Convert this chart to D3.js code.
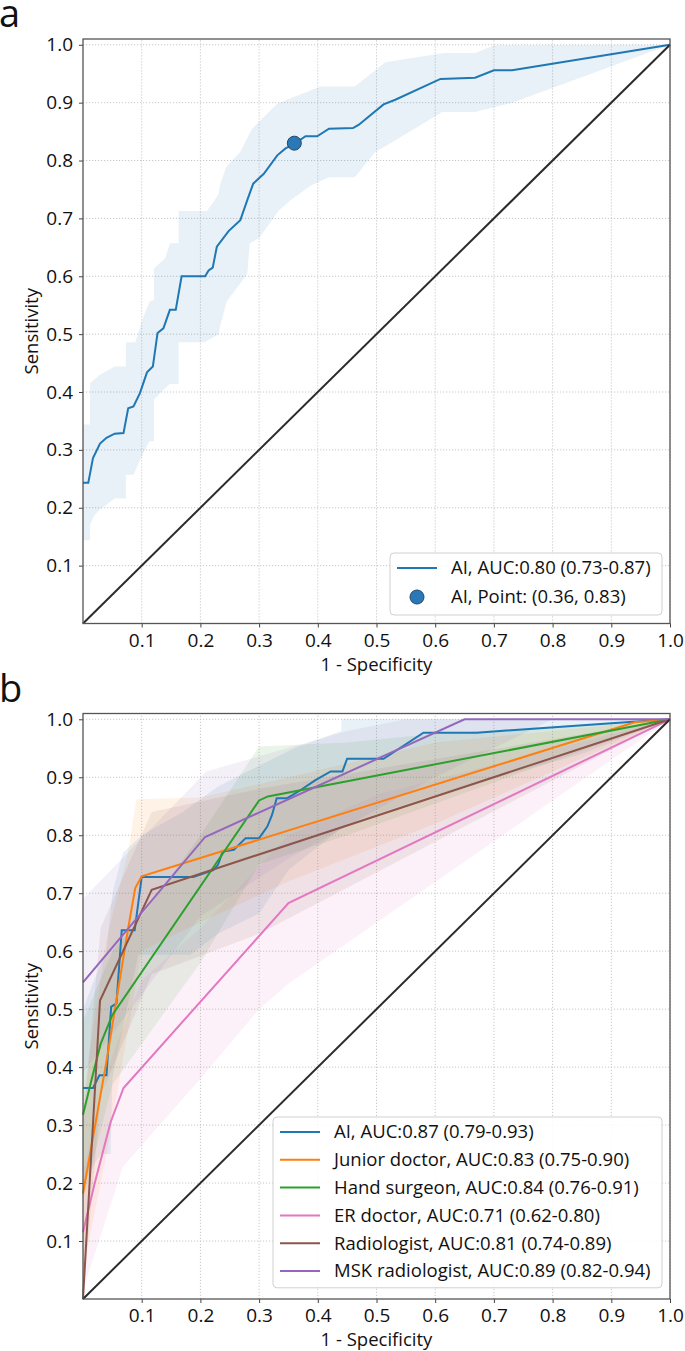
<!DOCTYPE html>
<html>
<head>
<meta charset="utf-8">
<script src="https://cdn.jsdelivr.net/npm/d3@7"></script>
<style>
  body { margin: 0; background: #fff; }
  text { font-family: "Open Sans", "DejaVu Sans", sans-serif; fill: #111; }
  .axis text { font-size: 19px; }
  .axis line { stroke: #444; }
  .axis .domain { display: none; }
  .gridLine { stroke: #c8c8c8; stroke-width: 1; stroke-dasharray: 1.2, 1.8; }
  .spine { fill: none; stroke: #555; stroke-width: 1.3; }
  .axis__label { font-size: 18.5px; }
  .legend text { font-size: 18.5px; }
  .panelLabel { font-size: 38px; font-weight: 500; }
</style>
</head>
<body>
<div class="chart"></div>
<script>
// ---- data: panel a (AI alone) ----
const aiCurveA = [[0, 0.243], [0.009, 0.243], [0.017, 0.286], [0.029, 0.311], [0.04, 0.321], [0.054, 0.328],
  [0.069, 0.329], [0.077, 0.372], [0.086, 0.375], [0.097, 0.398], [0.109, 0.434], [0.119, 0.444],
  [0.127, 0.502], [0.137, 0.51], [0.148, 0.542], [0.158, 0.542], [0.168, 0.6], [0.208, 0.6],
  [0.214, 0.61], [0.221, 0.615], [0.228, 0.651], [0.248, 0.678], [0.268, 0.697], [0.28, 0.732],
  [0.29, 0.76], [0.308, 0.777], [0.331, 0.809], [0.345, 0.821], [0.359, 0.828], [0.379, 0.842],
  [0.399, 0.842], [0.419, 0.855], [0.46, 0.856], [0.47, 0.862], [0.512, 0.897], [0.532, 0.905],
  [0.609, 0.941], [0.668, 0.943], [0.7, 0.956], [0.731, 0.956], [1, 1]]
const aiUpperA = [[0, 0.344], [0.012, 0.344], [0.012, 0.415], [0.029, 0.43], [0.054, 0.444], [0.073, 0.444],
  [0.073, 0.486], [0.089, 0.486], [0.103, 0.53], [0.113, 0.556], [0.121, 0.559], [0.121, 0.614],
  [0.14, 0.631], [0.148, 0.657], [0.163, 0.657], [0.163, 0.713], [0.211, 0.713], [0.223, 0.729],
  [0.231, 0.743], [0.234, 0.76], [0.244, 0.789], [0.268, 0.815], [0.288, 0.855], [0.331, 0.898],
  [0.36, 0.91], [0.405, 0.928], [0.463, 0.928], [0.515, 0.97], [0.615, 0.986], [0.668, 0.986],
  [0.7, 0.999], [1, 1]]
const aiLowerA = [[0, 0.144], [0.012, 0.144], [0.012, 0.171], [0.019, 0.186], [0.029, 0.197], [0.054, 0.216],
  [0.073, 0.216], [0.073, 0.257], [0.086, 0.257], [0.103, 0.295], [0.113, 0.315], [0.121, 0.315],
  [0.121, 0.387], [0.134, 0.401], [0.148, 0.414], [0.163, 0.414], [0.163, 0.486], [0.207, 0.486],
  [0.231, 0.5], [0.234, 0.516], [0.245, 0.557], [0.268, 0.588], [0.28, 0.605], [0.284, 0.657],
  [0.3, 0.666], [0.334, 0.714], [0.354, 0.732], [0.388, 0.757], [0.419, 0.771], [0.463, 0.771],
  [0.498, 0.815], [0.521, 0.828], [0.612, 0.884], [0.668, 0.884], [0.731, 0.9], [1, 1]]
const aiPointA = [0.36, 0.83]
const legendA = ['AI, AUC:0.80 (0.73-0.87)', 'AI, Point: (0.36, 0.83)']

// ---- data: panel b (AI vs readers) ----
const readers = ['AI', 'Junior doctor', 'Hand surgeon', 'ER doctor', 'Radiologist', 'MSK radiologist']
const aucLabels = ['AUC:0.87 (0.79-0.93)', 'AUC:0.83 (0.75-0.90)', 'AUC:0.84 (0.76-0.91)',
  'AUC:0.71 (0.62-0.80)', 'AUC:0.81 (0.74-0.89)', 'AUC:0.89 (0.82-0.94)']
const readerColors = ['#1f77b4', '#ff7f0e', '#2ca02c', '#e377c2', '#8c564b', '#9467bd']

const aiCurveB = [[0, 0.364], [0.017, 0.364], [0.028, 0.386], [0.04, 0.386], [0.048, 0.504], [0.057, 0.51],
  [0.066, 0.636], [0.088, 0.636], [0.1, 0.728], [0.188, 0.728], [0.222, 0.74], [0.23, 0.749],
  [0.238, 0.772], [0.257, 0.775], [0.277, 0.795], [0.3, 0.795], [0.314, 0.815], [0.322, 0.835],
  [0.33, 0.864], [0.348, 0.864], [0.371, 0.878], [0.396, 0.895], [0.422, 0.91], [0.442, 0.91],
  [0.45, 0.932], [0.512, 0.932], [0.58, 0.977], [0.671, 0.977], [0.9, 0.993], [1, 1]]
const juniorCurve = [[0, 0.182], [0.04, 0.41], [0.077, 0.64], [0.089, 0.709], [0.1, 0.729], [0.94, 0.995], [1, 1]]
const surgeonCurve = [[0, 0.318], [0.015, 0.38], [0.03, 0.44], [0.05, 0.49], [0.3, 0.86], [0.315, 0.867], [1, 1]]
const erCurve = [[0, 0.115], [0.02, 0.2], [0.047, 0.305], [0.069, 0.364], [0.35, 0.683], [1, 1]]
const radiologistCurve = [[0, 0], [0.029, 0.515], [0.117, 0.706], [1, 1]]
const mskCurve = [[0, 0.546], [0.208, 0.797], [0.65, 1], [1, 1]]

const aiUpperB = [[0, 0.5], [0.017, 0.545], [0.04, 0.6], [0.05, 0.7], [0.068, 0.77], [0.1, 0.8], [0.17, 0.84],
  [0.231, 0.885], [0.3, 0.92], [0.36, 0.95], [0.44, 0.98], [0.44, 1], [1, 1]]
const aiLowerB = [[0, 0.2], [0.03, 0.25], [0.047, 0.25], [0.05, 0.38], [0.094, 0.594], [0.183, 0.594],
  [0.231, 0.631], [0.3, 0.665], [0.35, 0.74], [0.45, 0.82], [0.6, 0.87], [0.85, 0.94], [1, 1]]
const juniorUpper = [[0, 0.35], [0.04, 0.62], [0.077, 0.772], [0.091, 0.862], [0.2, 0.865], [0.35, 0.9], [0.6, 0.96], [1, 1]]
const juniorLower = [[0, 0.05], [0.04, 0.25], [0.1, 0.6], [0.2, 0.65], [0.35, 0.72], [0.6, 0.82], [1, 1]]
const surgeonUpper = [[0, 0.48], [0.05, 0.6], [0.1, 0.66], [0.2, 0.8], [0.3, 0.953], [0.45, 0.96], [0.6, 0.975], [1, 1]]
const surgeonLower = [[0, 0.17], [0.05, 0.37], [0.1, 0.44], [0.2, 0.58], [0.3, 0.75], [0.45, 0.8], [1, 1]]
const erUpper = [[0, 0.22], [0.05, 0.42], [0.1, 0.55], [0.2, 0.64], [0.35, 0.8], [0.5, 0.87], [1, 1]]
const erLower = [[0, 0.015], [0.068, 0.228], [0.2, 0.38], [0.3, 0.5], [0.35, 0.544], [1, 1]]
const radiologistUpper = [[0, 0.3], [0.03, 0.64], [0.117, 0.84], [0.3, 0.88], [1, 1]]
const radiologistLower = [[0, 0], [0.03, 0.35], [0.117, 0.56], [0.3, 0.63], [1, 1]]
const mskUpper = [[0, 0.69], [0.21, 0.91], [0.45, 0.98], [0.55, 1], [1, 1]]
const mskLower = [[0, 0.39], [0.2, 0.66], [0.35, 0.76], [0.6, 0.9], [0.8, 1], [1, 1]]

const curvesB = [aiCurveB, juniorCurve, surgeonCurve, erCurve, radiologistCurve, mskCurve]
const uppersB = [aiUpperB, juniorUpper, surgeonUpper, erUpper, radiologistUpper, mskUpper]
const lowersB = [aiLowerB, juniorLower, surgeonLower, erLower, radiologistLower, mskLower]

const tickValues = d3.range(1, 11).map(d => d / 10)

const width = 685
const height = 1351

const svg = d3.select('.chart')
  .append('svg')
  .attr('width', width)
  .attr('height', height)

// one set of axes: grid, ticks, labels
const drawPanel = function(top, bottom, label) {
  const x = d3.scaleLinear().domain([0, 1]).range([83, 670])
  const y = d3.scaleLinear().domain([0, 1.01]).range([bottom, top])
  const g = svg.append('g')

  const grid = g.append('g')
  grid.selectAll('.gx')
    .data(tickValues)
    .join('line')
    .attr('class', 'gridLine')
    .attr('x1', d => x(d)).attr('x2', d => x(d))
    .attr('y1', bottom).attr('y2', top)
  grid.selectAll('.gy')
    .data(tickValues)
    .join('line')
    .attr('class', 'gridLine')
    .attr('x1', x(0)).attr('x2', x(1))
    .attr('y1', d => y(d)).attr('y2', d => y(d))

  g.append('g')
    .attr('class', 'axis')
    .attr('transform', `translate(0,${bottom})`)
    .call(d3.axisBottom(x).tickValues(tickValues).tickFormat(d3.format('.1f')).tickSize(4).tickPadding(6))
  g.append('g')
    .attr('class', 'axis')
    .attr('transform', `translate(${x(0)},0)`)
    .call(d3.axisLeft(y).tickValues(tickValues).tickFormat(d3.format('.1f')).tickSize(4).tickPadding(6))

  g.append('text')
    .attr('class', 'axis__label')
    .attr('text-anchor', 'middle')
    .attr('x', (x(0) + x(1)) / 2)
    .attr('y', bottom + 47)
    .text('1 - Specificity')
  g.append('text')
    .attr('class', 'axis__label')
    .attr('text-anchor', 'middle')
    .attr('transform', `translate(38,${(top + bottom) / 2}) rotate(-90)`)
    .text('Sensitivity')

  g.append('text')
    .attr('class', 'panelLabel')
    .attr('x', -1)
    .attr('y', top - 12)
    .text(label)

  return { g, x, y }
}

const bandPath = function(x, y, upper, lower) {
  const pts = upper.concat(lower.slice().reverse())
  return d3.line().x(d => x(d[0])).y(d => y(d[1]))(pts) + 'Z'
}

// chance diagonal + spines on top
const drawFrame = function(p, top, bottom) {
  p.g.append('line')
    .attr('x1', p.x(0)).attr('y1', p.y(0))
    .attr('x2', p.x(1)).attr('y2', p.y(1))
    .attr('stroke', '#2b2b2b')
    .attr('stroke-width', 2)
  p.g.append('rect')
    .attr('class', 'spine')
    .attr('x', p.x(0)).attr('y', top)
    .attr('width', p.x(1) - p.x(0)).attr('height', bottom - top)
}

const drawLegend = function(left, top, w, rowH, items) {
  const lg = svg.append('g').attr('class', 'legend')
  lg.append('rect')
    .attr('x', left).attr('y', top)
    .attr('width', w).attr('height', rowH * items.length + 4)
    .attr('rx', 4)
    .attr('fill', 'white').attr('fill-opacity', 0.85)
    .attr('stroke', '#d0d0d0')
  items.forEach((it, i) => {
    const cy = top + 15 + i * rowH
    if (it.type === 'point') {
      lg.append('circle')
        .attr('cx', left + 27).attr('cy', cy).attr('r', 7)
        .attr('fill', it.color).attr('stroke', '#24476b')
    } else {
      lg.append('line')
        .attr('x1', left + 7).attr('x2', left + 47)
        .attr('y1', cy).attr('y2', cy)
        .attr('stroke', it.color).attr('stroke-width', 2)
    }
    lg.append('text')
      .attr('x', left + 61).attr('y', cy)
      .attr('dy', '0.35em')
      .text(it.text)
  })
}

// ---------- panel a ----------
const pa = drawPanel(39, 623.5, 'a')
pa.g.append('path')
  .attr('d', bandPath(pa.x, pa.y, aiUpperA, aiLowerA))
  .attr('fill', '#1f77b4')
  .attr('fill-opacity', 0.1)
pa.g.append('path')
  .datum(aiCurveA)
  .attr('d', d3.line().x(d => pa.x(d[0])).y(d => pa.y(d[1])))
  .attr('fill', 'none')
  .attr('stroke', '#1f77b4')
  .attr('stroke-width', 2)
drawFrame(pa, 39, 623.5)
pa.g.append('circle')
  .attr('cx', pa.x(aiPointA[0]))
  .attr('cy', pa.y(aiPointA[1]))
  .attr('r', 7)
  .attr('fill', '#2a78b5')
  .attr('stroke', '#24476b')
drawLegend(390, 553, 272, 29, [
  { type: 'line', color: '#1f77b4', text: legendA[0] },
  { type: 'point', color: '#2a78b5', text: legendA[1] }
])

// ---------- panel b ----------
const pb = drawPanel(713.5, 1299, 'b')
readers.forEach((r, i) => {
  pb.g.append('path')
    .attr('d', bandPath(pb.x, pb.y, uppersB[i], lowersB[i]))
    .attr('fill', readerColors[i])
    .attr('fill-opacity', 0.1)
})
readers.forEach((r, i) => {
  pb.g.append('path')
    .datum(curvesB[i])
    .attr('d', d3.line().x(d => pb.x(d[0])).y(d => pb.y(d[1])))
    .attr('fill', 'none')
    .attr('stroke', readerColors[i])
    .attr('stroke-width', 2)
})
drawFrame(pb, 713.5, 1299)
drawLegend(273, 1117, 389, 27.8, readers.map((r, i) => ({
  type: 'line', color: readerColors[i], text: `${r}, ${aucLabels[i]}`
})))
</script>
</body>
</html>
